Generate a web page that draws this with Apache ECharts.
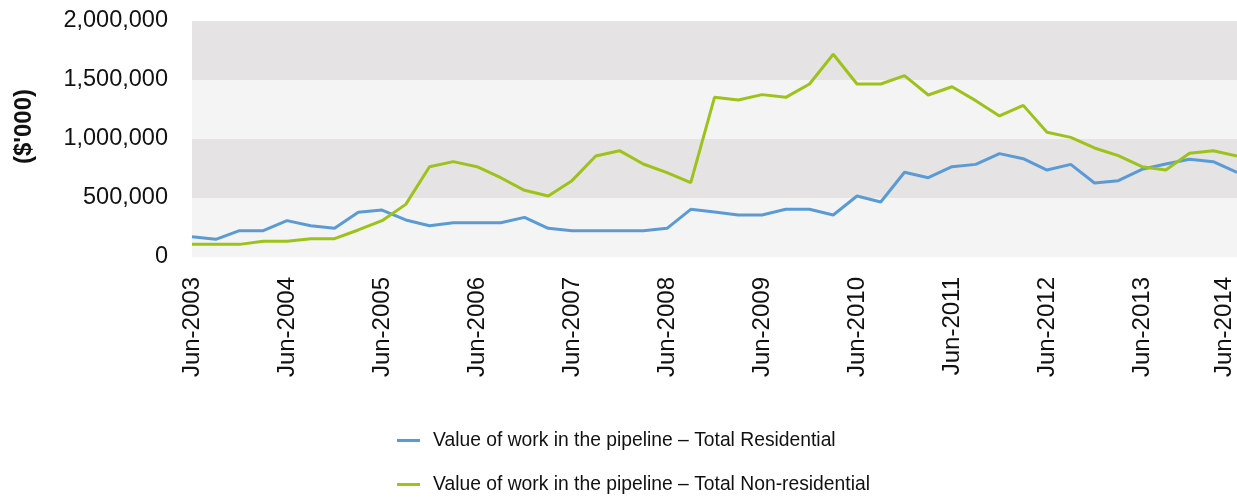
<!DOCTYPE html>
<html>
<head>
<meta charset="utf-8">
<script src="https://cdn.jsdelivr.net/npm/echarts@6/dist/echarts.min.js"></script>
<style>
html,body{margin:0;padding:0;background:#fff;}
#main{width:1237px;height:498px;}
</style>
</head>
<body>
<div id="main"></div>
<script>
// quarterly, Jun-2003 .. Jun-2014
var quarters = [];
var months = ['Jun', 'Sep', 'Dec', 'Mar'];
for (var i = 0; i < 45; i++) {
    var yr = 2003 + Math.floor((i + 1) / 4);
    quarters.push(months[i % 4] + '-' + yr);
}

var residential = [
    172000, 150000, 223000, 223000, 308000, 265000, 243000, 379000, 398000, 314000,
    265000, 291000, 291000, 291000, 336000, 243000, 223000, 223000, 223000, 223000,
    243000, 404000, 381000, 356000, 356000, 404000, 404000, 356000, 517000, 466000,
    718000, 672000, 765000, 785000, 876000, 833000, 737000, 785000, 627000, 647000,
    743000, 788000, 828000, 808000, 718000
];
var nonResidential = [
    107000, 107000, 107000, 133000, 133000, 155000, 155000, 229000, 308000, 446000,
    765000, 808000, 765000, 672000, 565000, 517000, 647000, 856000, 901000, 788000,
    715000, 630000, 1353000, 1331000, 1376000, 1353000, 1466000, 1718000, 1466000, 1466000,
    1537000, 1373000, 1443000, 1325000, 1195000, 1285000, 1057000, 1014000, 924000, 859000,
    765000, 737000, 879000, 901000, 856000
];
var seriesNames = [
    'Value of work in the pipeline \u2013 Total Residential',
    'Value of work in the pipeline \u2013 Total Non-residential'
];

var myChart = echarts.init(document.getElementById('main'));
var font = 'Liberation Sans, Arial, Helvetica, sans-serif';
var legendText = { fontSize: 19.3, color: '#111', fontFamily: font, padding: [0, 0, 0, 8] };
var option = {
    animation: false,
    textStyle: { fontFamily: font },
    grid: { left: 192, right: 0, top: 21, bottom: 241, outerBoundsMode: 'none' },
    legend: [
        {
            left: 392, top: 426,
            itemWidth: 23, itemHeight: 3, icon: 'rect',
            textStyle: legendText,
            data: [seriesNames[0]]
        },
        {
            left: 392, top: 470,
            itemWidth: 23, itemHeight: 3, icon: 'rect',
            textStyle: legendText,
            data: [seriesNames[1]]
        }
    ],
    xAxis: {
        type: 'category',
        boundaryGap: false,
        data: quarters,
        axisLine: { show: false },
        axisTick: { show: false },
        axisLabel: {
            interval: 3,
            rotate: 90,
            margin: 20,
            fontSize: 24,
            color: '#111',
            fontFamily: font,
            hideOverlap: false,
            // last label is pulled back inside the chart edge
            formatter: function (v, idx) {
                return idx === quarters.length - 1 ? '{e|' + v + '}' : v;
            },
            rich: {
                e: { fontSize: 24, color: '#111', fontFamily: font, padding: [0, 0, 26, 0] }
            }
        }
    },
    yAxis: {
        type: 'value',
        min: 0,
        max: 2000000,
        interval: 500000,
        name: "($'000)",
        nameLocation: 'middle',
        nameRotate: 90,
        nameGap: 156,
        nameTextStyle: { fontSize: 24, fontWeight: 'bold', color: '#111', fontFamily: font, padding: [0, 0, 0, 25] },
        axisLine: { show: false },
        axisTick: { show: false },
        splitLine: { show: false },
        splitArea: { show: true, areaStyle: { color: ['#f4f4f4', '#e5e3e4'] } },
        axisLabel: {
            margin: 24,
            fontSize: 23.5,
            color: '#111',
            fontFamily: font,
            formatter: function (v) { return v.toLocaleString('en-US'); }
        }
    },
    series: [
        {
            name: seriesNames[0],
            type: 'line',
            data: residential,
            symbol: 'none',
            lineStyle: { width: 3, color: '#5b9bd5' },
            itemStyle: { color: '#5b9bd5' }
        },
        {
            name: seriesNames[1],
            type: 'line',
            data: nonResidential,
            symbol: 'none',
            lineStyle: { width: 3, color: '#9dc21b' },
            itemStyle: { color: '#9dc21b' }
        }
    ]
};
myChart.setOption(option);
</script>
</body>
</html>
